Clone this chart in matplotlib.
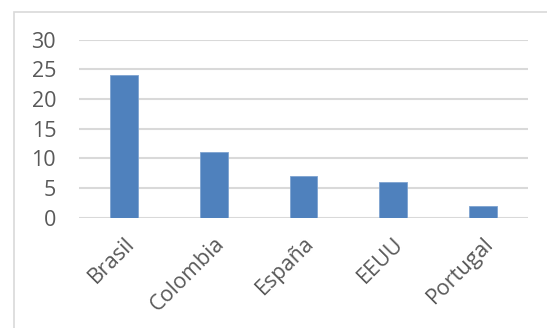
import matplotlib.pyplot as plt
from matplotlib.patches import Rectangle

paises = ['Brasil', 'Colombia', 'España', 'EEUU', 'Portugal']
valores = [24, 11, 7, 6, 2]
yticks = [0, 5, 10, 15, 20, 25, 30]

plt.rcParams['font.family'] = ['Open Sans', 'DejaVu Sans']

fig = plt.figure(figsize=(5.47, 3.28), dpi=100)

# marco del gráfico
fig.patches.append(Rectangle((14 / 547, -0.05), 1.0, 1 - 11.5 / 328 + 0.05,
                             transform=fig.transFigure, fill=False,
                             edgecolor='#D9D9D9', linewidth=1.2))

ax = fig.add_axes([79 / 547, (328 - 217.7) / 328, 449 / 547, 178.2 / 328])
x = range(len(paises))
ax.bar(x, valores, width=0.31, color='#4F81BD', edgecolor='#7EA3D0',
       linewidth=0.6, zorder=3)

ax.set_xlim(-0.5, len(paises) - 0.5)
ax.set_ylim(0, 30)
ax.set_yticks(yticks)
ax.yaxis.grid(True, color='#D9D9D9', linewidth=1.5)
ax.set_axisbelow(True)
for s in ax.spines.values():
    s.set_visible(False)
ax.tick_params(axis='both', length=0, colors='#595959', labelsize=15.5)
ax.tick_params(axis='y', pad=16.5)
ax.set_xticks(list(x))
ax.set_xticklabels(paises, rotation=45, ha='right', rotation_mode='anchor')
ax.tick_params(axis='x', pad=11)

fig.savefig('out.png', dpi=100)
